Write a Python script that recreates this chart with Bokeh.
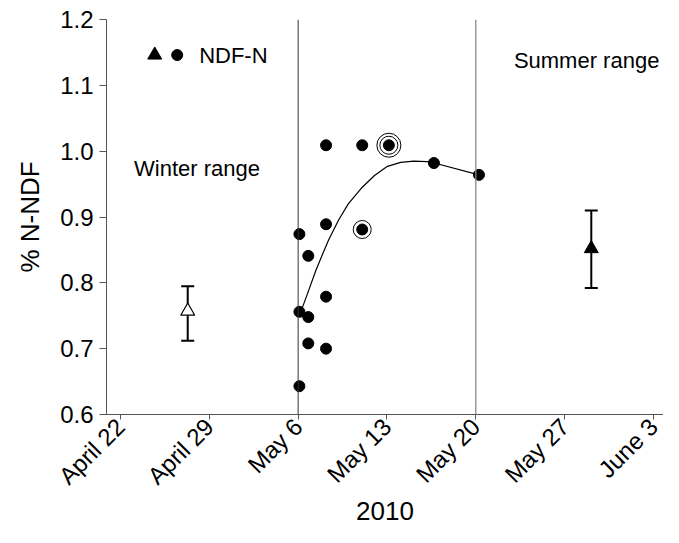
from bokeh.plotting import figure
from bokeh.models import FixedTicker, Range1d, Span, Label
from bokeh.embed import file_html
from bokeh.resources import INLINE

# x = days after April 22, 2010
tick_days = [0, 7, 14, 21, 28, 35, 42]
tick_labels = ["April 22", "April 29", "May 6", "May 13", "May 20", "May 27", "June 3"]
y_ticks = [0.6, 0.7, 0.8, 0.9, 1.0, 1.1, 1.2]
y_tick_labels = ["0.6", "0.7", "0.8", "0.9", "1.0", "1.1", "1.2"]

# NDF-N samples (filled circles)
ndf_day = [14.1, 14.1, 14.1, 14.8, 14.8, 14.8, 16.2, 16.2, 16.2, 16.2, 19.05, 19.05, 21.15, 24.7, 28.25]
ndf_val = [0.874, 0.756, 0.643, 0.841, 0.748, 0.708, 1.009, 0.889, 0.779, 0.700, 1.009, 0.881, 1.009, 0.982, 0.964]

# circled points
ring1_day = [19.05, 21.15]
ring1_val = [0.881, 1.009]
ring2_day = [21.15]
ring2_val = [1.009]

# fitted curve
fit_day = [14.29, 14.86, 15.38, 15.89, 16.40, 17.18, 17.95, 18.99, 20.02, 21.04, 22.08, 23.11, 24.14, 24.73, 28.25]
fit_val = [0.760, 0.790, 0.818, 0.842, 0.865, 0.895, 0.920, 0.944, 0.963, 0.977, 0.983, 0.985, 0.984, 0.982, 0.964]

# range means with error bars
winter_day = [5.3]
winter_mean = [0.757]
winter_lo = [0.712]
winter_hi = [0.795]
summer_day = [37.1]
summer_mean = [0.852]
summer_lo = [0.792]
summer_hi = [0.910]

# boundaries between ranges
bound_days = [14, 28]

FONT = "Liberation Sans"

p = figure(width=663, height=527, output_backend="svg", toolbar_location=None,
           x_range=Range1d(-1.1, 42.79), y_range=Range1d(0.6, 1.2),
           min_border_left=106, min_border_top=19, min_border_right=0, min_border_bottom=113)
p.outline_line_color = None
p.grid.visible = False
p.background_fill_color = "white"

# axes
p.xaxis.ticker = FixedTicker(ticks=tick_days)
p.xaxis.major_label_overrides = {d: l for d, l in zip(tick_days, tick_labels)}
p.yaxis.ticker = FixedTicker(ticks=y_ticks)
p.yaxis.major_label_overrides = {v: l for v, l in zip(y_ticks, y_tick_labels)}
for ax in (p.xaxis, p.yaxis):
    ax.axis_line_color = "#555555"
    ax.major_tick_line_color = "#555555"
    ax.minor_tick_line_color = None
    ax.major_tick_in = 0
    ax.major_label_text_font = FONT
    ax.major_label_text_font_size = "24px"
    ax.major_label_text_color = "black"
    ax.axis_label_text_font = FONT
    ax.axis_label_text_font_style = "normal"
    ax.axis_label_text_color = "black"
p.xaxis.major_tick_out = 5
p.yaxis.major_tick_out = 7
p.xaxis.major_label_orientation = 0.785398
p.xaxis.axis_label = "2010"
p.xaxis.axis_label_text_font_size = "26px"
p.xaxis.axis_label_standoff = 0
p.xaxis.major_label_standoff = 3
p.yaxis.axis_label = "% N-NDF"
p.yaxis.axis_label_text_font_size = "26px"
p.yaxis.axis_label_standoff = 12
p.yaxis.major_label_standoff = 6

# range boundaries
p.add_layout(Span(location=bound_days[0], dimension="height", line_color="#333333", line_width=1))
p.add_layout(Span(location=bound_days[1], dimension="height", line_color="#888888", line_width=1.3))

# fitted curve
p.line(fit_day, fit_val, line_color="black", line_width=1.2)

# rings
p.scatter(ring1_day, ring1_val, marker="circle", size=18, fill_color=None, line_color="black", line_width=1)
p.scatter(ring2_day, ring2_val, marker="circle", size=24, fill_color=None, line_color="black", line_width=1)

# points
p.scatter(ndf_day, ndf_val, marker="circle", size=11, fill_color="black", line_color="black")

# error bars
p.segment(winter_day, winter_lo, winter_day, winter_hi, line_color="black", line_width=2)
p.scatter(winter_day, winter_lo, marker="dash", size=13, line_color="black", line_width=2)
p.scatter(winter_day, winter_hi, marker="dash", size=13, line_color="black", line_width=2)
p.scatter(winter_day, winter_mean, marker="triangle", size=14, fill_color="white", line_color="black", line_width=1.2)

p.segment(summer_day, summer_lo, summer_day, summer_hi, line_color="black", line_width=2)
p.scatter(summer_day, summer_lo, marker="dash", size=13, line_color="black", line_width=2)
p.scatter(summer_day, summer_hi, marker="dash", size=13, line_color="black", line_width=2)
p.scatter(summer_day, summer_mean, marker="triangle", size=14, fill_color="black", line_color="black")

# legend (drawn by hand)
p.scatter([2.7], [1.146], marker="triangle", size=14, fill_color="black", line_color="black")
p.scatter([4.47], [1.146], marker="circle", size=11, fill_color="black", line_color="black")
p.add_layout(Label(x=6.2, y=1.146, text="NDF-N", text_font=FONT, text_font_size="22px",
                   text_baseline="middle", text_color="black"))

# annotations
p.add_layout(Label(x=1.07, y=0.974, text="Winter range", text_font=FONT, text_font_size="22px",
                   text_baseline="alphabetic", text_color="black"))
p.add_layout(Label(x=31.0, y=1.138, text="Summer range", text_font=FONT, text_font_size="22px",
                   text_baseline="alphabetic", text_color="black"))

open("out.html", "w").write(file_html(p, INLINE))
